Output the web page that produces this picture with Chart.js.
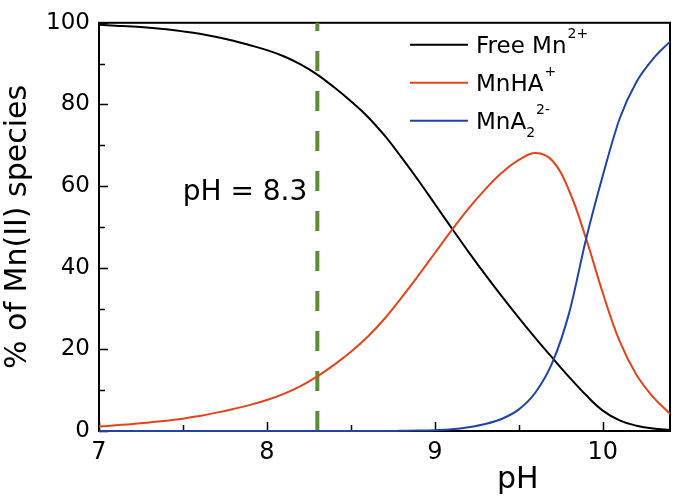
<!DOCTYPE html>
<html>
<head>
<meta charset="utf-8">
<script src="https://cdn.jsdelivr.net/npm/chart.js@4.4.0/dist/chart.umd.min.js"></script>
<style>
  html, body { margin: 0; padding: 0; background: #fff; }
  canvas { display: block; }
</style>
</head>
<body>
<canvas id="speciesChart" width="675" height="500"></canvas>
<script>
// --- DATA ---
const pH = [7.0, 7.1, 7.2, 7.3, 7.4, 7.5, 7.6, 7.7, 7.8, 7.9,
            8.0, 8.1, 8.2, 8.3, 8.4, 8.5, 8.6, 8.7, 8.8, 8.9,
            9.0, 9.1, 9.2, 9.3, 9.4, 9.5, 9.6, 9.7, 9.8, 9.9,
            10.0, 10.1, 10.2, 10.3, 10.4];
const freeMn = [99.5, 99.3, 99.1, 98.8, 98.4, 97.9, 97.3, 96.5, 95.6, 94.5,
                93.3, 91.8, 89.8, 87.3, 84.2, 80.8, 77.0, 72.4, 67.1, 61.5,
                55.6, 49.7, 43.9, 38.3, 32.9, 27.7, 22.7, 17.9, 13.2, 8.8,
                5.0, 2.6, 1.3, 0.6, 0.3];
const mnHA = [1.1, 1.4, 1.7, 2.1, 2.5, 3.0, 3.7, 4.5, 5.4, 6.4,
              7.6, 9.1, 11.0, 13.4, 16.2, 19.4, 23.1, 27.5, 32.6, 38.0,
              43.6, 49.2, 54.5, 59.2, 63.3, 66.4, 68.1, 66.2, 58.8, 47.2,
              33.8, 22.0, 13.8, 8.3, 4.2];
const mnA2 = [0, 0, 0, 0, 0, 0, 0, 0, 0, 0,
              0, 0, 0, 0, 0, 0, 0, 0, 0.05, 0.1,
              0.2, 0.4, 0.9, 1.7, 3.0, 5.3, 9.5, 16.8, 29.0, 47.0,
              62.6, 76.5, 85.5, 91.2, 95.4];
const markerPH = 8.3;

const xTicks = [7, 8, 9, 10];
const xMinorTicks = [7.5, 8.5, 9.5];
const yTicks = [0, 20, 40, 60, 80, 100];
const yMinorTicks = [10, 30, 50, 70, 90];

// legend names with super/subscripts
const seriesNames = [
    [{ t: 'Free Mn' }, { t: '2+', sup: true }],
    [{ t: 'MnHA' }, { t: '+', sup: true }],
    [{ t: 'MnA' }, { t: '2', sub: true }, { t: '2-', sup: true }]
];
const seriesColors = ['#000000', '#e5431b', '#1e44aa'];

const FONT = 'DejaVu Sans';
Chart.defaults.font.family = FONT;
Chart.defaults.color = '#000';

const toPoints = (ys) => pH.map((x, i) => ({ x: x, y: ys[i] }));

// frame, inward ticks, legend and labels
const decorations = {
    id: 'decorations',
    beforeDatasetsDraw(chart) {
        const { ctx, chartArea: a, scales: { x, y } } = chart;
        ctx.save();
        ctx.strokeStyle = '#000';
        ctx.lineWidth = 2;
        ctx.strokeRect(a.left, a.top, a.right - a.left, a.bottom - a.top);
        ctx.lineWidth = 1.5;
        ctx.beginPath();
        xTicks.forEach(v => {
            const px = Math.round(x.getPixelForValue(v)) + 0.5;
            ctx.moveTo(px, a.bottom); ctx.lineTo(px, a.bottom - 9);
        });
        xMinorTicks.forEach(v => {
            const px = Math.round(x.getPixelForValue(v)) + 0.5;
            ctx.moveTo(px, a.bottom); ctx.lineTo(px, a.bottom - 6);
        });
        yTicks.forEach(v => {
            const py = Math.round(y.getPixelForValue(v)) + 0.5;
            ctx.moveTo(a.left, py); ctx.lineTo(a.left + 9, py);
        });
        yMinorTicks.forEach(v => {
            const py = Math.round(y.getPixelForValue(v)) + 0.5;
            ctx.moveTo(a.left, py); ctx.lineTo(a.left + 6, py);
        });
        ctx.stroke();
        ctx.restore();
    },
    afterDraw(chart) {
        const { ctx, chartArea: a, scales: { x, y } } = chart;
        ctx.save();
        ctx.fillStyle = '#000';
        ctx.textBaseline = 'alphabetic';

        // pH = 8.3 label
        ctx.font = '28px "' + FONT + '"';
        ctx.textAlign = 'right';
        ctx.fillText('pH = ' + markerPH, x.getPixelForValue(markerPH) - 10, y.getPixelForValue(56.5));

        // x axis title
        ctx.font = '30px "' + FONT + '"';
        ctx.textAlign = 'left';
        ctx.fillText('pH', a.left + 398, 488);

        // legend
        ctx.textAlign = 'left';
        seriesNames.forEach((parts, i) => {
            const lineY = a.top + 22 + i * 38;
            ctx.strokeStyle = seriesColors[i];
            ctx.lineWidth = 2;
            ctx.beginPath();
            ctx.moveTo(a.left + 311, lineY);
            ctx.lineTo(a.left + 369, lineY);
            ctx.stroke();
            let tx = a.left + 377;
            const base = lineY + 8;
            parts.forEach(p => {
                let yy = base;
                if (p.sup) { ctx.font = '14px "' + FONT + '"'; yy = base - 15; tx += 1; }
                else if (p.sub) { ctx.font = '14px "' + FONT + '"'; yy = base + 8; }
                else { ctx.font = '23px "' + FONT + '"'; }
                ctx.fillText(p.t, tx, yy);
                tx += ctx.measureText(p.t).width;
            });
        });
        ctx.restore();
    }
};

new Chart(document.getElementById('speciesChart').getContext('2d'), {
    type: 'line',
    data: {
        datasets: [
            {
                label: 'pH = 8.3',
                data: [{ x: markerPH, y: 0 }, { x: markerPH, y: 100 }],
                borderColor: '#5b8b37',
                borderWidth: 4,
                borderDash: [20, 20],
                pointRadius: 0,
                tension: 0,
                order: 3
            },
            {
                label: 'Free Mn2+',
                data: toPoints(freeMn),
                borderColor: seriesColors[0],
                borderWidth: 2,
                pointRadius: 0,
                tension: 0.4,
                order: 2
            },
            {
                label: 'MnHA+',
                data: toPoints(mnHA),
                borderColor: seriesColors[1],
                borderWidth: 2,
                pointRadius: 0,
                tension: 0.4,
                order: 1
            },
            {
                label: 'MnA2 2-',
                data: toPoints(mnA2),
                borderColor: seriesColors[2],
                borderWidth: 2,
                pointRadius: 0,
                cubicInterpolationMode: 'monotone',
                order: 0
            }
        ]
    },
    options: {
        responsive: false,
        animation: false,
        clip: false,
        plugins: { legend: { display: false }, tooltip: { enabled: false } },
        layout: { padding: { left: 0, right: 5, top: 15, bottom: 0 } },
        scales: {
            x: {
                type: 'linear',
                min: 7, max: 10.4,
                afterBuildTicks: (s) => { s.ticks = xTicks.map(v => ({ value: v })); },
                afterFit: (s) => { s.height = 69; },
                grid: { display: false, drawTicks: false },
                border: { display: false },
                ticks: { color: '#000', font: { size: 24 }, padding: 7, maxRotation: 0 }
            },
            y: {
                min: 0, max: 100,
                afterBuildTicks: (s) => { s.ticks = yTicks.map(v => ({ value: v })); },
                afterFit: (s) => { s.width = 99; },
                grid: { display: false, drawTicks: false },
                border: { display: false },
                ticks: { color: '#000', font: { size: 23 }, padding: 9 },
                title: { display: true, text: '% of Mn(II) species', color: '#000', font: { size: 30 }, padding: 0 }
            }
        }
    },
    plugins: [decorations]
});
</script>
</body>
</html>
